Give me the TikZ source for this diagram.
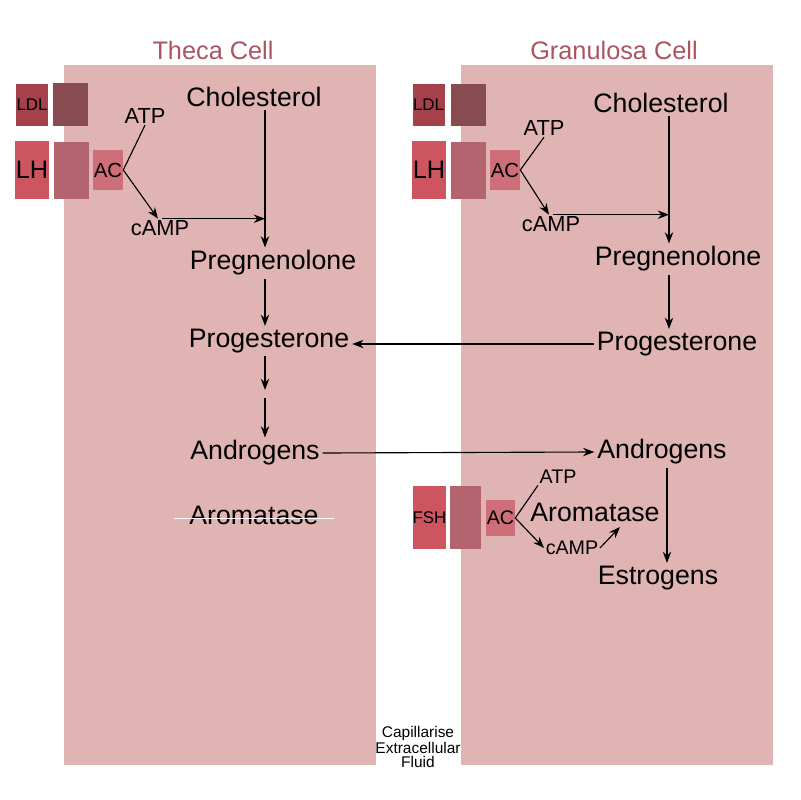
\documentclass[tikz,border=0pt]{standalone}
\usepackage{fontspec}
\setmainfont{Liberation Sans}
\usepackage{xcolor}
\usepackage{tikz}
\usetikzlibrary{arrows.meta, positioning, calc}
\definecolor{cellpink}{RGB}{224, 180, 178}
\definecolor{titlered}{RGB}{170, 85, 95}
\definecolor{ldlred}{RGB}{165, 65, 75}
\definecolor{ldldark}{RGB}{135, 75, 80}
\definecolor{lhred}{RGB}{205, 85, 95}
\definecolor{lhdark}{RGB}{180, 100, 110}
\definecolor{acred}{RGB}{205, 110, 120}

\tikzset{
  cellbox/.style={fill=cellpink, draw=none},
  celltitle/.style={font=\fontsize{18}{20}\selectfont, text=titlered},
  mol/.style={font=\fontsize{19}{21}\selectfont, inner sep=2pt},
  messenger/.style={font=\fontsize{15.5}{17}\selectfont, inner sep=1pt},
  smallmsg/.style={font=\fontsize{14}{16}\selectfont, inner sep=1pt},
  rcpt/.style={draw=none, inner sep=0pt},
  arr/.style={-{Stealth[length=8pt,width=6pt]}, line width=0.8pt},
  plain/.style={line width=0.8pt}
}

\begin{document}
\begin{tikzpicture}[x=0.025cm, y=-0.025cm]
  \useasboundingbox (0,0) rectangle (800,800);
  \fill[white] (0,0) rectangle (800,800);

  \fill[cellbox] (64,65) rectangle (376,765);
  \fill[cellbox] (461,65) rectangle (773,765);

  \node[celltitle] (thecaT) at (213,50) {Theca Cell};
  \node[celltitle] (granT) at (614,50) {Granulosa Cell};

  % theca receptors
  \node[rcpt, fill=ldlred, minimum width=0.8cm, minimum height=1.05cm,
        font=\fontsize{12}{12}\selectfont] (ldlL) at (32,105) {LDL};
  \node[rcpt, fill=ldldark, minimum width=0.875cm, minimum height=1.075cm] (ldlbL) at (70.5,104.5) {};
  \node[rcpt, fill=lhred, minimum width=0.85cm, minimum height=1.45cm,
        font=\fontsize{18}{18}\selectfont] (lhL) at (32,170) {LH};
  \node[rcpt, fill=lhdark, minimum width=0.875cm, minimum height=1.425cm] (lhbL) at (71.5,170.5) {};
  \node[rcpt, fill=acred, minimum width=0.75cm, minimum height=1.0cm,
        font=\fontsize{14.5}{15}\selectfont] (acL) at (108,170) {AC};

  \node[messenger] (atpL) at (145,116) {ATP};
  \node[messenger] (campL) at (160,228) {cAMP};
  \coordinate (joinL) at (265,215);
  \coordinate (axL) at (265,0);

  \node[mol] (cholL) at (254,97) {Cholesterol};
  \node[mol] (pregL) at (273,263) {Pregnenolone};
  \node[mol] (progL) at (269,341) {Progesterone};
  \coordinate (midL) at (265,394);
  \node[mol] (andL) at (255,453) {Androgens};
  \node[mol] (aromL) at (254,515) {Aromatase};

  \draw[plain] (acL.east) -- (atpL.south);
  \draw[arr] (acL.east) -- ([xshift=-0.05cm]campL.north);
  \draw[arr] ([xshift=0.05cm]campL.north) -- (campL.north -| joinL);
  \draw[arr] (cholL.south -| axL) -- (pregL.north -| axL);
  \draw[arr] (pregL.south -| axL) -- (progL.north -| axL);
  \draw[arr] (progL.south -| axL) -- ([yshift=0.1cm]midL);
  \draw[arr] ([yshift=-0.1cm]midL) -- (andL.north -| axL);
  \draw[white, line width=0.8pt] ([xshift=-0.3cm, yshift=-0.08cm]aromL.west)
    -- ([xshift=0.3cm, yshift=-0.08cm]aromL.east);

  % granulosa receptors
  \node[rcpt, fill=ldlred, minimum width=0.8cm, minimum height=1.05cm,
        font=\fontsize{12}{12}\selectfont] (ldlR) at (428.5,105) {LDL};
  \node[rcpt, fill=ldldark, minimum width=0.875cm, minimum height=1.05cm] (ldlbR) at (468.5,105) {};
  \node[rcpt, fill=lhred, minimum width=0.85cm, minimum height=1.45cm,
        font=\fontsize{18}{18}\selectfont] (lhR) at (429,170) {LH};
  \node[rcpt, fill=lhdark, minimum width=0.875cm, minimum height=1.425cm] (lhbR) at (468.5,170.5) {};
  \node[rcpt, fill=acred, minimum width=0.75cm, minimum height=1.0cm,
        font=\fontsize{14.5}{15}\selectfont] (acR) at (505,170) {AC};

  \node[messenger] (atpR) at (544,128) {ATP};
  \node[messenger] (campR) at (551,224) {cAMP};
  \coordinate (joinR) at (669,211);
  \coordinate (axR) at (669,0);

  \node[mol] (cholR) at (661,103) {Cholesterol};
  \node[mol] (pregR) at (678,259) {Pregnenolone};
  \node[mol] (progR) at (677,344) {Progesterone};
  \node[mol] (andR) at (662,452) {Androgens};
  \node[mol] (estR) at (658,578) {Estrogens};

  \draw[plain] (acR.east) -- (atpR.south);
  \draw[arr] (acR.east) -- ([xshift=-0.05cm]campR.north);
  \draw[arr] ([xshift=0.05cm]campR.north) -- (campR.north -| joinR);
  \draw[arr] (cholR.south -| axR) -- (pregR.north -| axR);
  \draw[arr] (pregR.south -| axR) -- (progR.north -| axR);
  \draw[arr] (progR.west) -- (progL.east |- progR.west);
  \draw[arr] (andL.east) -- (andR.west);
  \draw[arr] (andR.south -| 667,0) -- (estR.north -| 667,0);

  % FSH pathway
  \node[rcpt, fill=lhred, minimum width=0.825cm, minimum height=1.575cm,
        font=\fontsize{12}{12}\selectfont] (fsh) at (429.5,517.5) {FSH};
  \node[rcpt, fill=lhdark, minimum width=0.775cm, minimum height=1.575cm] (fshb) at (465.5,517.5) {};
  \node[rcpt, fill=acred, minimum width=0.725cm, minimum height=0.9cm,
        font=\fontsize{14}{15}\selectfont] (acF) at (500.5,518) {AC};

  \node[smallmsg] (atpF) at (558,477) {ATP};
  \node[mol] (aromR) at (595,512) {Aromatase};
  \node[smallmsg] (campF) at (572,548) {cAMP};
  \coordinate (aromTip) at (620,527);

  \draw[plain] (acF.east) -- (atpF.south west);
  \draw[arr] (acF.east) -- (campF.west);
  \draw[arr] (campF.east) -- (aromTip);

  \node[align=center, font=\fontsize{11}{10}\selectfont, inner sep=0pt] (fluid) at (418,747)
    {Capillarise\\Extracellular\\Fluid};
\end{tikzpicture}
\end{document}
